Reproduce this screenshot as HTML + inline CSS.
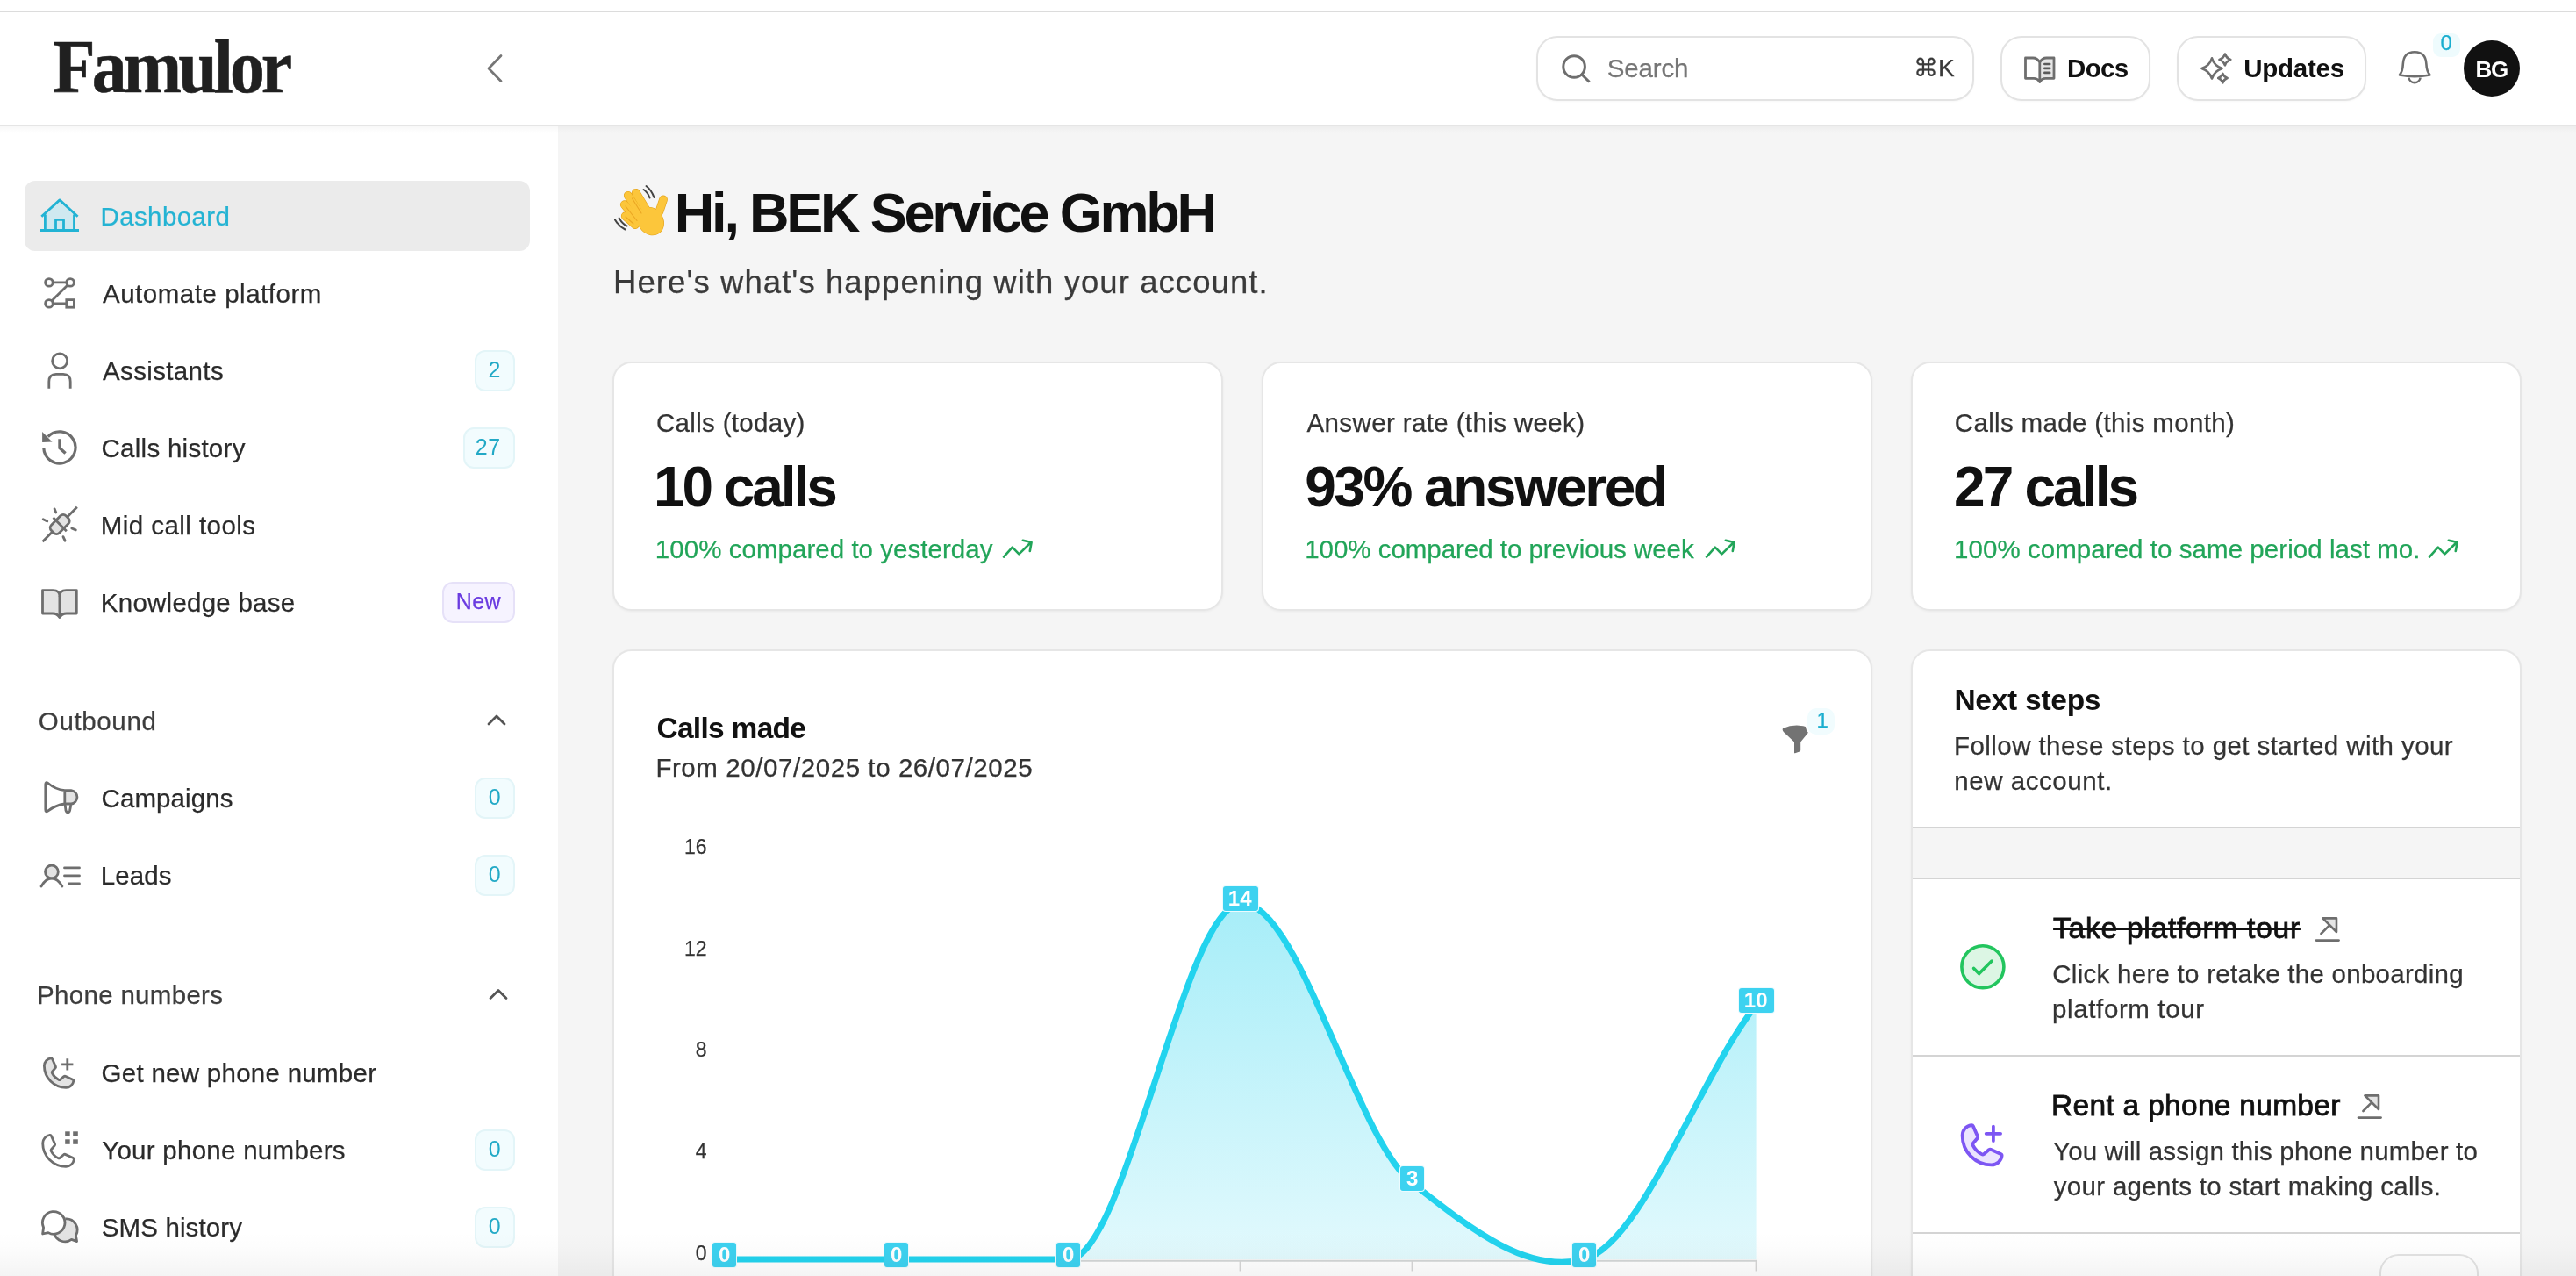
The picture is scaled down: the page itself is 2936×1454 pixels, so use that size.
<!DOCTYPE html>
<html lang="en"><head><meta charset="utf-8"><title>Famulor Dashboard</title>
<style>
*{box-sizing:border-box;margin:0;padding:0}
html,body{width:2936px;height:1454px;overflow:hidden;background:#f5f5f5}
body{position:relative;font-family:"Liberation Sans",Arial,sans-serif;-webkit-font-smoothing:antialiased}
.t{position:absolute;white-space:pre;line-height:1;-webkit-text-stroke:0.25px currentColor}
body{will-change:transform}
.r{position:absolute;display:block}
</style></head>
<body>
<div class="r" style="left:0.0px;top:0.0px;width:2936.0px;height:144.0px;background:#fff"></div>
<div class="r" style="left:0.0px;top:12.0px;width:2936.0px;height:2.0px;background:#dcdcdc"></div>
<div class="r" style="left:0.0px;top:142.0px;width:2936.0px;height:2.0px;background:#e5e5e5"></div>
<div class="t" style="left:60.0px;top:32.1px;font-size:87px;font-weight:700;color:#202020;letter-spacing:-4.20px;font-family:'Liberation Serif', 'Times New Roman', serif;transform:scaleX(0.915);transform-origin:0 0;-webkit-text-stroke:0.6px #202020;">Famulor</div>
<svg class="r" style="left:548.0px;top:56.0px;" width="32" height="44" viewBox="0 0 32 44" ><path d="M23 7.5 L9 22 L23 36.5" fill="none" stroke="#767676" stroke-width="2.8" stroke-linecap="round" stroke-linejoin="round"/></svg>
<div class="r" style="left:1751.0px;top:40.5px;width:499.0px;height:74.5px;border:2px solid #e3e3e3;border-radius:24px;background:#fff;box-shadow:0 1px 2px rgba(0,0,0,0.03)"></div>
<svg class="r" style="left:1776.0px;top:58.0px;" width="40" height="40" viewBox="0 0 40 40" ><circle cx="18.1" cy="18" r="12.3" fill="none" stroke="#6e6e6e" stroke-width="3"/><path d="M27 27 L34.5 34.5" stroke="#6e6e6e" stroke-width="3" stroke-linecap="square"/></svg>
<div class="t" style="left:1831.8px;top:63.0px;font-size:29.5px;font-weight:400;color:#767676;letter-spacing:-0.15px;font-family:'Liberation Sans', Arial, sans-serif;">Search</div>
<div class="t" style="left:2181.0px;top:64.3px;font-size:28px;font-weight:400;color:#3a3a3a;letter-spacing:0.00px;font-family:'Liberation Sans', Arial, sans-serif;">&#8984;K</div>
<div class="r" style="left:2280.0px;top:40.5px;width:171.0px;height:74.5px;border:2px solid #e3e3e3;border-radius:24px;background:#fff;box-shadow:0 1px 2px rgba(0,0,0,0.03)"></div>
<svg class="r" style="left:2300.0px;top:58.0px;" width="50" height="44" viewBox="0 0 50 44" ><path d="M24.8 12 L30 8 H42 V31.3 H30 L24.8 35 Z" fill="#e6e6e6"/><path d="M24.8 13 Q22 8 17 8 H8.5 V31.3 H18 Q22.5 31.3 24.8 35.5 Q27 31.3 31.5 31.3 H41 V8 H32.5 Q27.5 8 24.8 13 Z M24.8 13 V35.5" fill="none" stroke="#6e6e6e" stroke-width="2.8" stroke-linejoin="round"/><path d="M30.3 15 H36.2 M30.3 19.9 H36.2 M30.3 24.9 H36.2" stroke="#5a5a5a" stroke-width="2.6" stroke-linecap="round"/></svg>
<div class="t" style="left:2356.0px;top:63.0px;font-size:29.5px;font-weight:700;color:#111;letter-spacing:-0.67px;font-family:'Liberation Sans', Arial, sans-serif;-webkit-text-stroke:0;">Docs</div>
<div class="r" style="left:2481.0px;top:40.5px;width:216.0px;height:74.5px;border:2px solid #e3e3e3;border-radius:24px;background:#fff;box-shadow:0 1px 2px rgba(0,0,0,0.03)"></div>
<svg class="r" style="left:2500.0px;top:52.0px;" width="50" height="52" viewBox="0 0 50 52" ><path d="M21 14.299999999999999 Q23.784 23.116 32.6 25.9 Q23.784 28.683999999999997 21 37.5 Q18.216 28.683999999999997 9.4 25.9 Q18.216 23.116 21 14.299999999999999 Z" fill="none" stroke="#6e6e6e" stroke-width="2.6" stroke-linejoin="round"/><path d="M35.9 9.5 Q37.5 14.3 42.3 15.9 Q37.5 17.5 35.9 22.3 Q34.3 17.5 29.5 15.9 Q34.3 14.3 35.9 9.5 Z" fill="none" stroke="#6e6e6e" stroke-width="2.6" stroke-linejoin="round"/><path d="M33.4 31.900000000000002 Q34.699999999999996 35.800000000000004 38.6 37.1 Q34.699999999999996 38.4 33.4 42.300000000000004 Q32.1 38.4 28.2 37.1 Q32.1 35.800000000000004 33.4 31.900000000000002 Z" fill="none" stroke="#6e6e6e" stroke-width="2.6" stroke-linejoin="round"/></svg>
<div class="t" style="left:2557.2px;top:63.0px;font-size:29.5px;font-weight:700;color:#111;letter-spacing:-0.25px;font-family:'Liberation Sans', Arial, sans-serif;-webkit-text-stroke:0;">Updates</div>
<svg class="r" style="left:2730.0px;top:55.0px;" width="44" height="46" viewBox="0 0 44 46" ><path d="M5 30.4 Q8.5 26 8.8 18 Q9.5 4.3 22.1 4.3 Q34.7 4.3 35.4 18 Q35.7 26 39.4 30.4 Q22.1 34 5 30.4 Z" fill="none" stroke="#6e6e6e" stroke-width="2.6" stroke-linejoin="round"/><path d="M15.4 33.6 A6.7 6.7 0 0 0 28.6 33.6" fill="none" stroke="#6e6e6e" stroke-width="2.6"/></svg>
<div class="r" style="left:2772.5px;top:37.5px;width:31.0px;height:27.0px;background:#eefbfd;border-radius:9px"></div>
<div class="t" style="left:2781.5px;top:37.2px;font-size:24px;font-weight:400;color:#1aaecf;letter-spacing:0.00px;font-family:'Liberation Sans', Arial, sans-serif;">0</div>
<div class="r" style="left:2808.0px;top:46.0px;width:64.0px;height:64.0px;background:#111;border-radius:50%"></div>
<div class="t" style="left:2821.5px;top:65.5px;font-size:26px;font-weight:700;color:#fff;letter-spacing:-1.20px;font-family:'Liberation Sans', Arial, sans-serif;-webkit-text-stroke:0;">BG</div>
<div class="r" style="left:0.0px;top:144.0px;width:636.0px;height:1310.0px;background:#fff"></div>
<div class="r" style="left:0.0px;top:144.0px;width:2936.0px;height:7.0px;background:linear-gradient(to bottom, rgba(0,0,0,0.03), rgba(0,0,0,0))"></div>
<div class="r" style="left:28.0px;top:206.0px;width:576.0px;height:80.0px;background:#ebebeb;border-radius:12px"></div>
<div class="t" style="left:114.5px;top:231.5px;font-size:29.5px;font-weight:400;color:#24b3d3;letter-spacing:0.38px;font-family:'Liberation Sans', Arial, sans-serif;">Dashboard</div>
<div class="t" style="left:117.0px;top:319.5px;font-size:29.5px;font-weight:400;color:#2b2b2b;letter-spacing:0.52px;font-family:'Liberation Sans', Arial, sans-serif;">Automate platform</div>
<div class="t" style="left:117.0px;top:407.5px;font-size:29.5px;font-weight:400;color:#2b2b2b;letter-spacing:0.36px;font-family:'Liberation Sans', Arial, sans-serif;">Assistants</div>
<div class="r" style="left:540.5px;top:398.5px;width:46.5px;height:47.0px;background:#f2fcfe;border:2px solid #e3f5f8;border-radius:12px"></div>
<div class="t" style="left:556.5px;top:409.4px;font-size:25px;font-weight:400;color:#22a9c6;letter-spacing:0.60px;font-family:'Liberation Sans', Arial, sans-serif;-webkit-text-stroke:0;">2</div>
<div class="t" style="left:115.5px;top:495.5px;font-size:29.5px;font-weight:400;color:#2b2b2b;letter-spacing:0.27px;font-family:'Liberation Sans', Arial, sans-serif;">Calls history</div>
<div class="r" style="left:527.5px;top:486.5px;width:59.5px;height:47.0px;background:#f2fcfe;border:2px solid #e3f5f8;border-radius:12px"></div>
<div class="t" style="left:541.8px;top:497.4px;font-size:25px;font-weight:400;color:#22a9c6;letter-spacing:0.50px;font-family:'Liberation Sans', Arial, sans-serif;-webkit-text-stroke:0;">27</div>
<div class="t" style="left:114.8px;top:583.5px;font-size:29.5px;font-weight:400;color:#2b2b2b;letter-spacing:0.44px;font-family:'Liberation Sans', Arial, sans-serif;">Mid call tools</div>
<div class="t" style="left:114.8px;top:671.5px;font-size:29.5px;font-weight:400;color:#2b2b2b;letter-spacing:0.25px;font-family:'Liberation Sans', Arial, sans-serif;">Knowledge base</div>
<div class="r" style="left:504.2px;top:662.5px;width:82.9px;height:47.0px;background:#f6f3ff;border:2px solid #e6e1f8;border-radius:12px"></div>
<div class="t" style="left:519.8px;top:672.8px;font-size:25px;font-weight:400;color:#6a3be0;letter-spacing:0.43px;font-family:'Liberation Sans', Arial, sans-serif;">New</div>
<div class="t" style="left:115.5px;top:894.5px;font-size:29.5px;font-weight:400;color:#2b2b2b;letter-spacing:0.09px;font-family:'Liberation Sans', Arial, sans-serif;">Campaigns</div>
<div class="r" style="left:540.5px;top:885.5px;width:46.5px;height:47.0px;background:#f2fcfe;border:2px solid #e3f5f8;border-radius:12px"></div>
<div class="t" style="left:556.8px;top:896.4px;font-size:25px;font-weight:400;color:#22a9c6;letter-spacing:0.10px;font-family:'Liberation Sans', Arial, sans-serif;-webkit-text-stroke:0;">0</div>
<div class="t" style="left:114.8px;top:982.5px;font-size:29.5px;font-weight:400;color:#2b2b2b;letter-spacing:0.06px;font-family:'Liberation Sans', Arial, sans-serif;">Leads</div>
<div class="r" style="left:540.5px;top:973.5px;width:46.5px;height:47.0px;background:#f2fcfe;border:2px solid #e3f5f8;border-radius:12px"></div>
<div class="t" style="left:556.8px;top:984.4px;font-size:25px;font-weight:400;color:#22a9c6;letter-spacing:0.10px;font-family:'Liberation Sans', Arial, sans-serif;-webkit-text-stroke:0;">0</div>
<div class="t" style="left:115.6px;top:1207.5px;font-size:29.5px;font-weight:400;color:#2b2b2b;letter-spacing:0.27px;font-family:'Liberation Sans', Arial, sans-serif;">Get new phone number</div>
<div class="t" style="left:116.2px;top:1295.5px;font-size:29.5px;font-weight:400;color:#2b2b2b;letter-spacing:0.27px;font-family:'Liberation Sans', Arial, sans-serif;">Your phone numbers</div>
<div class="r" style="left:540.5px;top:1286.5px;width:46.5px;height:47.0px;background:#f2fcfe;border:2px solid #e3f5f8;border-radius:12px"></div>
<div class="t" style="left:556.8px;top:1297.4px;font-size:25px;font-weight:400;color:#22a9c6;letter-spacing:0.10px;font-family:'Liberation Sans', Arial, sans-serif;-webkit-text-stroke:0;">0</div>
<div class="t" style="left:115.8px;top:1383.5px;font-size:29.5px;font-weight:400;color:#2b2b2b;letter-spacing:0.12px;font-family:'Liberation Sans', Arial, sans-serif;">SMS history</div>
<div class="r" style="left:540.5px;top:1374.5px;width:46.5px;height:47.0px;background:#f2fcfe;border:2px solid #e3f5f8;border-radius:12px"></div>
<div class="t" style="left:556.8px;top:1385.4px;font-size:25px;font-weight:400;color:#22a9c6;letter-spacing:0.10px;font-family:'Liberation Sans', Arial, sans-serif;-webkit-text-stroke:0;">0</div>
<div class="t" style="left:43.8px;top:807.3px;font-size:29.5px;font-weight:400;color:#3d3d3d;letter-spacing:0.64px;font-family:'Liberation Sans', Arial, sans-serif;">Outbound</div>
<svg class="r" style="left:550.0px;top:808.0px;" width="32" height="24" viewBox="0 0 32 24" ><path d="M7 17 L16 8 L25 17" fill="none" stroke="#555" stroke-width="2.8" stroke-linecap="round" stroke-linejoin="round"/></svg>
<div class="t" style="left:42.1px;top:1119.0px;font-size:29.5px;font-weight:400;color:#3d3d3d;letter-spacing:0.30px;font-family:'Liberation Sans', Arial, sans-serif;">Phone numbers</div>
<svg class="r" style="left:552.0px;top:1120.0px;" width="32" height="24" viewBox="0 0 32 24" ><path d="M7 17.5 L16 8.5 L25 17.5" fill="none" stroke="#555" stroke-width="2.8" stroke-linecap="round" stroke-linejoin="round"/></svg>
<svg class="r" style="left:0.0px;top:0.0px;" width="636" height="1454" viewBox="0 0 636 1454" ><path d="M51.4 246 V262.5 H84.5 V246 L68 229.5 Z" fill="#cfe9f0"/><path d="M47.3 246.7 L68 227.9 L88.6 246.7 M51.4 244.5 V262.5 M84.5 244.5 V262.5 M46 262.5 H90 M63.5 262.5 V250.4 H72.5 V262.5" fill="none" stroke="#22b3d4" stroke-width="2.8" stroke-linejoin="round"/><g fill="none" stroke="#6e6e6e" stroke-width="2.8"><circle cx="55.9" cy="321.9" r="4.3"/><circle cx="80.1" cy="321.9" r="4.3"/><circle cx="55.9" cy="345.9" r="4.3"/><rect x="75.8" y="341.6" width="8.6" height="8.6"/><path d="M60.2 321.9 H75.8 M77 325 L59 342.8 M60.2 345.9 H75.8"/></g><g fill="none" stroke="#6e6e6e" stroke-width="2.8"><circle cx="68.1" cy="411.3" r="8.5"/><path d="M55.8 442.7 V435 Q55.8 426.4 64 426.4 H72 Q80.2 426.4 80.2 435 V442.7"/></g><g fill="none" stroke="#6e6e6e" stroke-width="3.2"><path d="M49.8 510.5 A18.1 18.1 0 1 0 54.66 497.56"/></g><path d="M48.1 492.1 L48.1 504 L59.5 503.6 Z" fill="#6e6e6e"/><path d="M68 500.3 V510.5 L74.6 516.6" fill="none" stroke="#6e6e6e" stroke-width="3.4"/><g transform="rotate(-45 68.2 597.5)"><rect x="56.400000000000006" y="591.1" width="23.6" height="12.8" rx="4.5" fill="#e3e3e3" stroke="#6e6e6e" stroke-width="2.8"/><path d="M68.2 586.7 V608.3 M56.400000000000006 597.5 H40.400000000000006 M80.0 597.5 H96.0" fill="none" stroke="#6e6e6e" stroke-width="2.8"/></g><path d="M62.1 579.9 L63.8 584 M49.2 591.8 L53.8 593.9 M81.8 602 L86.3 603.9 M72 611.6 L74.1 616.2" fill="none" stroke="#6e6e6e" stroke-width="2.8" stroke-linecap="round"/><path d="M67.9 679 Q67.9 672.6 75.5 672.6 H87.3 V699 H75.9 Q70.5 699 67.9 703.5 Q65.3 699 59.9 699 H48.5 V672.6 H60.3 Q67.9 672.6 67.9 679 Z" fill="#e3e3e3" stroke="#6e6e6e" stroke-width="2.8" stroke-linejoin="round"/><path d="M67.9 679 V703.5" stroke="#6e6e6e" stroke-width="2.8"/><path d="M73.8 900.7 H81.1 A7.7 7.7 0 0 1 81.1 916 H73.8 Z" fill="#e3e3e3"/><path d="M51.8 893.5 Q51.8 890.5 54.5 892.2 Q63 899.5 73.8 900.7 H81.1 A7.7 7.7 0 0 1 81.1 916 H73.8 Q63 917.5 54.5 924.2 Q51.8 926 51.8 922.5 Z M73.8 900.7 V916 M74 916 L75 923.5 Q76 926.3 77.8 925.8 Q79.2 925.4 79.6 923.6 L81.1 916" fill="none" stroke="#6e6e6e" stroke-width="2.8" stroke-linejoin="round"/><circle cx="58.9" cy="993.4" r="7.4" fill="#e3e3e3" stroke="#6e6e6e" stroke-width="2.8"/><path d="M47 1010 Q52 1001 58.9 1001 Q65.8 1001 70.9 1010" fill="none" stroke="#6e6e6e" stroke-width="2.8" stroke-linecap="round"/><path d="M73.5 988.9 H90.5 M73.5 997.9 H90.5 M78.3 1007 H90.5" stroke="#6e6e6e" stroke-width="2.8" stroke-linecap="round"/><g transform="translate(43.12 1199.97) scale(0.1821 0.1821)"><path d="M164.39,145.34a8,8,0,0,1,7.59-.69l47.16,21.13a8,8,0,0,1,4.8,8.3A48.33,48.33,0,0,1,176,216,136,136,0,0,1,40,80,48.33,48.33,0,0,1,81.92,32.06a8,8,0,0,1,8.3,4.8l21.13,47.2a8,8,0,0,1-.66,7.53L89.32,117a7.93,7.93,0,0,0-.54,7.81c8.27,16.93,25.77,34.22,42.75,42.41a7.92,7.92,0,0,0,7.83-.59Z" fill="#e3e3e3" stroke="#6e6e6e" stroke-width="15.4" stroke-linejoin="round"/></g><path d="M70.1 1212.9 H83.4 M76.8 1206.3 V1219.6" stroke="#6e6e6e" stroke-width="2.8"/><g transform="translate(40.94 1287.16) scale(0.1940 0.1951)"><path d="M164.39,145.34a8,8,0,0,1,7.59-.69l47.16,21.13a8,8,0,0,1,4.8,8.3A48.33,48.33,0,0,1,176,216,136,136,0,0,1,40,80,48.33,48.33,0,0,1,81.92,32.06a8,8,0,0,1,8.3,4.8l21.13,47.2a8,8,0,0,1-.66,7.53L89.32,117a7.93,7.93,0,0,0-.54,7.81c8.27,16.93,25.77,34.22,42.75,42.41a7.92,7.92,0,0,0,7.83-.59Z" fill="none" stroke="#6e6e6e" stroke-width="14.4" stroke-linejoin="round"/></g><g fill="#6e6e6e"><rect x="74.2" y="1289.3" width="5.5" height="5.5"/><rect x="83.2" y="1289.3" width="5.6" height="5.5"/><rect x="74.2" y="1298.3" width="5.5" height="5.5"/><rect x="83.2" y="1298.3" width="5.6" height="5.5"/></g><path d="M74.6 1389.2 A12.6 12.6 0 0 1 86.4 1407.8 L87.6 1414.6 L81.5 1412.4 A12.6 12.6 0 0 1 62.3 1406.2 A12.8 12.8 0 0 0 74.6 1389.2 Z" fill="#e3e3e3"/><path d="M49.6 1398.8 A12.8 12.8 0 1 1 55 1404.6 L48.6 1406 Z" fill="none" stroke="#6e6e6e" stroke-width="2.8" stroke-linejoin="round"/><path d="M74.4 1389 A12.6 12.6 0 0 1 86.4 1407.8 L87.6 1414.6 L81.5 1412.4 A12.6 12.6 0 0 1 62 1406" fill="none" stroke="#6e6e6e" stroke-width="2.8" stroke-linejoin="round"/></svg>
<svg class="r" style="left:0.0px;top:0.0px;" width="800" height="300" viewBox="0 0 800 300" ><path d="M724.8 219.8 L737 240" stroke="#e3a21a" stroke-width="9.799999999999999" stroke-linecap="round"/><path d="M715.8 222.8 L731 246" stroke="#e3a21a" stroke-width="9.799999999999999" stroke-linecap="round"/><path d="M711.8 233.2 L727 252" stroke="#e3a21a" stroke-width="9.799999999999999" stroke-linecap="round"/><path d="M712.8 246.2 L724 256" stroke="#e3a21a" stroke-width="9.799999999999999" stroke-linecap="round"/><path d="M756 227.5 L751.5 241" stroke="#e3a21a" stroke-width="9.799999999999999" stroke-linecap="round"/><ellipse cx="741.5" cy="252" rx="14.6" ry="17.1" transform="rotate(-35 741.5 252)" fill="#e3a21a"/><path d="M724.8 219.8 L737 240" stroke="#fcc63b" stroke-width="8.6" stroke-linecap="round"/><path d="M715.8 222.8 L731 246" stroke="#fcc63b" stroke-width="8.6" stroke-linecap="round"/><path d="M711.8 233.2 L727 252" stroke="#fcc63b" stroke-width="8.6" stroke-linecap="round"/><path d="M712.8 246.2 L724 256" stroke="#fcc63b" stroke-width="8.6" stroke-linecap="round"/><path d="M756 227.5 L751.5 241" stroke="#fcc63b" stroke-width="8.6" stroke-linecap="round"/><ellipse cx="741.5" cy="252" rx="14.0" ry="16.5" transform="rotate(-35 741.5 252)" fill="#fcc63b"/><path d="M720.5 226 L731 243 M713 235 L726 251.5 M713 247 L722 255" stroke="#eaa623" stroke-width="1.1" stroke-linecap="round"/><path d="M733.5 216 Q738.5 219.5 740.5 225.5 M736.5 212 Q742.5 216.5 745.5 225" fill="none" stroke="#444" stroke-width="2" stroke-linecap="round"/><path d="M701 250.5 Q705.5 258 712.5 261.5 M705.7 248.5 Q709 255 714.5 257.5" fill="none" stroke="#444" stroke-width="2" stroke-linecap="round"/></svg>
<div class="t" style="left:768.8px;top:210.7px;font-size:63px;font-weight:700;color:#111;letter-spacing:-3.21px;font-family:'Liberation Sans', Arial, sans-serif;-webkit-text-stroke:0;">Hi, BEK Service GmbH</div>
<div class="t" style="left:699.0px;top:304.1px;font-size:36.5px;font-weight:400;color:#3a3a3a;letter-spacing:1.07px;font-family:'Liberation Sans', Arial, sans-serif;">Here's what's happening with your account.</div>
<div class="r" style="left:698.0px;top:412.0px;width:696.0px;height:284.0px;background:#fff;border:2px solid #e6e6e6;border-radius:22px;box-shadow:0 1px 3px rgba(0,0,0,0.05)"></div>
<div class="t" style="left:748.0px;top:467.3px;font-size:29.5px;font-weight:400;color:#333;letter-spacing:0.32px;font-family:'Liberation Sans', Arial, sans-serif;">Calls (today)</div>
<div class="t" style="left:745.0px;top:522.6px;font-size:64px;font-weight:700;color:#111;letter-spacing:-3.06px;font-family:'Liberation Sans', Arial, sans-serif;-webkit-text-stroke:0;">10 calls</div>
<div class="t" style="left:746.8px;top:611.3px;font-size:29.5px;font-weight:400;color:#22a559;letter-spacing:0.04px;font-family:'Liberation Sans', Arial, sans-serif;">100% compared to yesterday</div>
<div class="r" style="left:1438.0px;top:412.0px;width:696.0px;height:284.0px;background:#fff;border:2px solid #e6e6e6;border-radius:22px;box-shadow:0 1px 3px rgba(0,0,0,0.05)"></div>
<div class="t" style="left:1489.5px;top:467.3px;font-size:29.5px;font-weight:400;color:#333;letter-spacing:0.38px;font-family:'Liberation Sans', Arial, sans-serif;">Answer rate (this week)</div>
<div class="t" style="left:1487.2px;top:522.6px;font-size:64px;font-weight:700;color:#111;letter-spacing:-2.49px;font-family:'Liberation Sans', Arial, sans-serif;-webkit-text-stroke:0;">93% answered</div>
<div class="t" style="left:1487.2px;top:611.3px;font-size:29.5px;font-weight:400;color:#22a559;letter-spacing:-0.03px;font-family:'Liberation Sans', Arial, sans-serif;">100% compared to previous week</div>
<div class="r" style="left:2178.0px;top:412.0px;width:696.0px;height:284.0px;background:#fff;border:2px solid #e6e6e6;border-radius:22px;box-shadow:0 1px 3px rgba(0,0,0,0.05)"></div>
<div class="t" style="left:2227.8px;top:467.3px;font-size:29.5px;font-weight:400;color:#333;letter-spacing:0.34px;font-family:'Liberation Sans', Arial, sans-serif;">Calls made (this month)</div>
<div class="t" style="left:2227.1px;top:522.6px;font-size:64px;font-weight:700;color:#111;letter-spacing:-2.89px;font-family:'Liberation Sans', Arial, sans-serif;-webkit-text-stroke:0;">27 calls</div>
<div class="t" style="left:2227.1px;top:611.3px;font-size:29.5px;font-weight:400;color:#22a559;letter-spacing:0.05px;font-family:'Liberation Sans', Arial, sans-serif;">100% compared to same period last mo.</div>
<svg class="r" style="left:1142.0px;top:614.0px;" width="36" height="24" viewBox="0 0 36 24" ><path d="M2 20.6 L11.8 9.7 L19.4 17.4 L32.5 4.5 M23.8 1.7 L33.6 4 L31.8 14" fill="none" stroke="#22a559" stroke-width="2.6" stroke-linecap="round" stroke-linejoin="round"/></svg>
<svg class="r" style="left:1942.5px;top:614.0px;" width="36" height="24" viewBox="0 0 36 24" ><path d="M2 20.6 L11.8 9.7 L19.4 17.4 L32.5 4.5 M23.8 1.7 L33.6 4 L31.8 14" fill="none" stroke="#22a559" stroke-width="2.6" stroke-linecap="round" stroke-linejoin="round"/></svg>
<svg class="r" style="left:2766.5px;top:614.0px;" width="36" height="24" viewBox="0 0 36 24" ><path d="M2 20.6 L11.8 9.7 L19.4 17.4 L32.5 4.5 M23.8 1.7 L33.6 4 L31.8 14" fill="none" stroke="#22a559" stroke-width="2.6" stroke-linecap="round" stroke-linejoin="round"/></svg>
<div class="r" style="left:698.0px;top:740.0px;width:1436.0px;height:760.0px;background:#fff;border:2px solid #e6e6e6;border-radius:22px;box-shadow:0 1px 3px rgba(0,0,0,0.05)"></div>
<div class="t" style="left:748.4px;top:812.8px;font-size:33.5px;font-weight:700;color:#111;letter-spacing:-0.70px;font-family:'Liberation Sans', Arial, sans-serif;-webkit-text-stroke:0;">Calls made</div>
<div class="t" style="left:747.4px;top:859.5px;font-size:29.5px;font-weight:400;color:#333;letter-spacing:0.57px;font-family:'Liberation Sans', Arial, sans-serif;">From 20/07/2025 to 26/07/2025</div>
<svg class="r" style="left:2028.0px;top:822.0px;" width="40" height="40" viewBox="0 0 40 40" ><path d="M4 8 Q19 1.5 34.8 7.5 Q35.8 9.5 34 11.5 L24.2 23.5 V33 Q24.2 34 23 34.5 L18 36.3 Q17 36.6 17 35.5 V23.5 L4.8 12 Q3 9.8 4 8 Z" fill="#737373"/></svg>
<div class="r" style="left:2060.4px;top:807.3px;width:30.6px;height:30.1px;background:#f1fcfe;border-radius:10px;box-shadow:0 0 0 2px #fff"></div>
<div class="t" style="left:2070.5px;top:809.3px;font-size:24px;font-weight:400;color:#1aaecf;letter-spacing:0.00px;font-family:'Liberation Sans', Arial, sans-serif;">1</div>
<svg class="r" style="left:0.0px;top:0.0px;" width="2936" height="1454" viewBox="0 0 2936 1454" ><defs><linearGradient id="ag" x1="0" y1="0" x2="0" y2="1"><stop offset="0" stop-color="#22d3ee" stop-opacity="0.40"/><stop offset="1" stop-color="#22d3ee" stop-opacity="0.13"/></linearGradient><clipPath id="cc"><rect x="700" y="742" width="1432" height="712"/></clipPath></defs><g clip-path="url(#cc)"><path d="M825.6 1435.0 C890.9 1435.0 956.3 1435.0 1021.6 1435.0 C1086.9 1435.0 1152.3 1435.0 1217.6 1435.0 C1282.9 1435.0 1348.3 1036.0 1413.6 1029.3 C1478.9 1022.5 1544.3 1296.9 1609.6 1348.1 C1674.9 1399.3 1740.3 1452.4 1805.6 1435.0 C1870.9 1417.6 1936.3 1228.3 2001.6 1145.2 L2001.6 1435.0 L825.6 1435.0 Z" fill="url(#ag)" transform="translate(0 0)"/><path d="M825.6 1436.8 H2002" stroke="#d3d6d6" stroke-width="2"/><path d="M1413.6 1437 V1448.5" stroke="#d6d6d6" stroke-width="2"/><path d="M1609.6 1437 V1448.5" stroke="#d6d6d6" stroke-width="2"/><path d="M2001.6 1437 V1448.5" stroke="#d6d6d6" stroke-width="2"/><path d="M825.6 1435.0 C890.9 1435.0 956.3 1435.0 1021.6 1435.0 C1086.9 1435.0 1152.3 1435.0 1217.6 1435.0 C1282.9 1435.0 1348.3 1036.0 1413.6 1029.3 C1478.9 1022.5 1544.3 1296.9 1609.6 1348.1 C1674.9 1399.3 1740.3 1452.4 1805.6 1435.0 C1870.9 1417.6 1936.3 1228.3 2001.6 1145.2" fill="none" stroke="#22d3ee" stroke-width="7" stroke-linecap="round" stroke-linejoin="round"/></g></svg>
<div class="t" style="right:2130.5px;top:953.5px;font-size:23px;color:#333;">16</div>
<div class="t" style="right:2130.5px;top:1069.5px;font-size:23px;color:#333;">12</div>
<div class="t" style="right:2130.5px;top:1185.1px;font-size:23px;color:#333;">8</div>
<div class="t" style="right:2130.5px;top:1301.1px;font-size:23px;color:#333;">4</div>
<div class="t" style="right:2130.5px;top:1417.1px;font-size:23px;color:#333;">0</div>
<div class="r" style="left:811.4px;top:1415.0px;width:28.5px;height:30.0px;background:#3dd2f0;border:1.5px solid rgba(255,255,255,0.9);border-radius:4px"></div>
<div class="t" style="left:819.0px;top:1417.9px;font-size:24px;font-weight:700;color:#fff;letter-spacing:0.00px;font-family:'Liberation Sans', Arial, sans-serif;-webkit-text-stroke:0;">0</div>
<div class="r" style="left:1007.4px;top:1415.0px;width:28.5px;height:30.0px;background:#3dd2f0;border:1.5px solid rgba(255,255,255,0.9);border-radius:4px"></div>
<div class="t" style="left:1015.0px;top:1417.9px;font-size:24px;font-weight:700;color:#fff;letter-spacing:0.00px;font-family:'Liberation Sans', Arial, sans-serif;-webkit-text-stroke:0;">0</div>
<div class="r" style="left:1203.3px;top:1415.0px;width:28.5px;height:30.0px;background:#3dd2f0;border:1.5px solid rgba(255,255,255,0.9);border-radius:4px"></div>
<div class="t" style="left:1210.9px;top:1417.9px;font-size:24px;font-weight:700;color:#fff;letter-spacing:0.00px;font-family:'Liberation Sans', Arial, sans-serif;-webkit-text-stroke:0;">0</div>
<div class="r" style="left:1392.6px;top:1009.3px;width:42.0px;height:30.0px;background:#3dd2f0;border:1.5px solid rgba(255,255,255,0.9);border-radius:4px"></div>
<div class="t" style="left:1399.8px;top:1012.2px;font-size:24px;font-weight:700;color:#fff;letter-spacing:0.00px;font-family:'Liberation Sans', Arial, sans-serif;-webkit-text-stroke:0;">14</div>
<div class="r" style="left:1595.3px;top:1328.1px;width:28.5px;height:30.0px;background:#3dd2f0;border:1.5px solid rgba(255,255,255,0.9);border-radius:4px"></div>
<div class="t" style="left:1602.9px;top:1330.9px;font-size:24px;font-weight:700;color:#fff;letter-spacing:0.00px;font-family:'Liberation Sans', Arial, sans-serif;-webkit-text-stroke:0;">3</div>
<div class="r" style="left:1791.3px;top:1415.0px;width:28.5px;height:30.0px;background:#3dd2f0;border:1.5px solid rgba(255,255,255,0.9);border-radius:4px"></div>
<div class="t" style="left:1798.9px;top:1417.9px;font-size:24px;font-weight:700;color:#fff;letter-spacing:0.00px;font-family:'Liberation Sans', Arial, sans-serif;-webkit-text-stroke:0;">0</div>
<div class="r" style="left:1980.6px;top:1125.2px;width:42.0px;height:30.0px;background:#3dd2f0;border:1.5px solid rgba(255,255,255,0.9);border-radius:4px"></div>
<div class="t" style="left:1987.8px;top:1128.1px;font-size:24px;font-weight:700;color:#fff;letter-spacing:0.00px;font-family:'Liberation Sans', Arial, sans-serif;-webkit-text-stroke:0;">10</div>
<div class="r" style="left:2178.0px;top:740.0px;width:696.0px;height:760.0px;background:#fff;border:2px solid #e6e6e6;border-radius:22px;box-shadow:0 1px 3px rgba(0,0,0,0.05)"></div>
<div class="t" style="left:2227.4px;top:780.8px;font-size:33.5px;font-weight:700;color:#111;letter-spacing:-0.26px;font-family:'Liberation Sans', Arial, sans-serif;-webkit-text-stroke:0;">Next steps</div>
<div class="t" style="left:2227.1px;top:835.0px;font-size:29.5px;font-weight:400;color:#333;letter-spacing:0.42px;font-family:'Liberation Sans', Arial, sans-serif;">Follow these steps to get started with your</div>
<div class="t" style="left:2227.3px;top:875.1px;font-size:29.5px;font-weight:400;color:#333;letter-spacing:0.55px;font-family:'Liberation Sans', Arial, sans-serif;">new account.</div>
<div class="r" style="left:2180.0px;top:942.0px;width:692.0px;height:60.0px;background:#f5f5f5;border-top:2px solid #d4d4d4;border-bottom:2px solid #d4d4d4"></div>
<svg class="r" style="left:2230.0px;top:1072.0px;" width="60" height="60" viewBox="0 0 60 60" ><circle cx="29.9" cy="29.8" r="24" fill="#dcf6e4" stroke="#22c55e" stroke-width="3.6"/><path d="M19.6 31.4 L25.6 37.6 L40.1 23.1" fill="none" stroke="#22c55e" stroke-width="3.6" stroke-linecap="round" stroke-linejoin="round"/></svg>
<div class="t" style="left:2340.1px;top:1041.0px;font-size:33.5px;font-weight:400;color:#111;letter-spacing:0.76px;font-family:'Liberation Sans', Arial, sans-serif;text-decoration:line-through;text-decoration-thickness:2px;-webkit-text-stroke:0.8px #111;">Take platform tour</div>
<svg class="r" style="left:2638.0px;top:1044.0px;" width="32" height="32" viewBox="0 0 32 32" ><path d="M9.4 2.4 H25 V18 Z" fill="#e5e5e5"/><path d="M9.4 2.4 H25 V18 Z M7.4 20 L17 10.4" fill="none" stroke="#6e6e6e" stroke-width="2.6" stroke-linejoin="round" stroke-linecap="round"/><path d="M2 27.6 H27.6" stroke="#6e6e6e" stroke-width="2.6" stroke-linecap="round"/></svg>
<div class="t" style="left:2339.3px;top:1095.3px;font-size:29.5px;font-weight:400;color:#333;letter-spacing:0.27px;font-family:'Liberation Sans', Arial, sans-serif;">Click here to retake the onboarding</div>
<div class="t" style="left:2339.1px;top:1135.2px;font-size:29.5px;font-weight:400;color:#333;letter-spacing:0.61px;font-family:'Liberation Sans', Arial, sans-serif;">platform tour</div>
<div class="r" style="left:2180.0px;top:1202.0px;width:692.0px;height:2.0px;background:#d4d4d4"></div>
<svg class="r" style="left:2226.0px;top:1272.0px;" width="68" height="64" viewBox="0 0 68 64" ><g transform="translate(0.82 2.22) scale(0.2446 0.2462)"><path d="M164.39,145.34a8,8,0,0,1,7.59-.69l47.16,21.13a8,8,0,0,1,4.8,8.3A48.33,48.33,0,0,1,176,216,136,136,0,0,1,40,80,48.33,48.33,0,0,1,81.92,32.06a8,8,0,0,1,8.3,4.8l21.13,47.2a8,8,0,0,1-.66,7.53L89.32,117a7.93,7.93,0,0,0-.54,7.81c8.27,16.93,25.77,34.22,42.75,42.41a7.92,7.92,0,0,0,7.83-.59Z" fill="#ebe4fe" stroke="#7d56f3" stroke-width="15.5" stroke-linejoin="round"/></g><path d="M37.70000000000009 19.799999999999955 H54.100000000000094 M45.90000000000009 11.599999999999955 V27.999999999999954" stroke="#7d56f3" stroke-width="3.8" stroke-linecap="round"/></svg>
<div class="t" style="left:2338.1px;top:1243.1px;font-size:33.5px;font-weight:400;color:#111;letter-spacing:0.29px;font-family:'Liberation Sans', Arial, sans-serif;-webkit-text-stroke:0.8px #111;">Rent a phone number</div>
<svg class="r" style="left:2685.6px;top:1245.8px;" width="32" height="32" viewBox="0 0 32 32" ><path d="M9.4 2.4 H25 V18 Z" fill="#e5e5e5"/><path d="M9.4 2.4 H25 V18 Z M7.4 20 L17 10.4" fill="none" stroke="#6e6e6e" stroke-width="2.6" stroke-linejoin="round" stroke-linecap="round"/><path d="M2 27.6 H27.6" stroke="#6e6e6e" stroke-width="2.6" stroke-linecap="round"/></svg>
<div class="t" style="left:2340.1px;top:1297.0px;font-size:29.5px;font-weight:400;color:#333;letter-spacing:0.17px;font-family:'Liberation Sans', Arial, sans-serif;">You will assign this phone number to</div>
<div class="t" style="left:2340.8px;top:1337.0px;font-size:29.5px;font-weight:400;color:#333;letter-spacing:0.30px;font-family:'Liberation Sans', Arial, sans-serif;">your agents to start making calls.</div>
<div class="r" style="left:2180.0px;top:1404.0px;width:692.0px;height:2.0px;background:#d4d4d4"></div>
<div class="r" style="left:2712.0px;top:1429.0px;width:113.0px;height:51.0px;border:2px solid #e3e3e3;border-radius:22px;background:#fff"></div>
<div class="r" style="left:0.0px;top:1404.0px;width:2936.0px;height:50.0px;background:linear-gradient(to bottom, rgba(0,0,0,0), rgba(0,0,0,0.012) 40%, rgba(0,0,0,0.045));pointer-events:none"></div>

</body></html>
